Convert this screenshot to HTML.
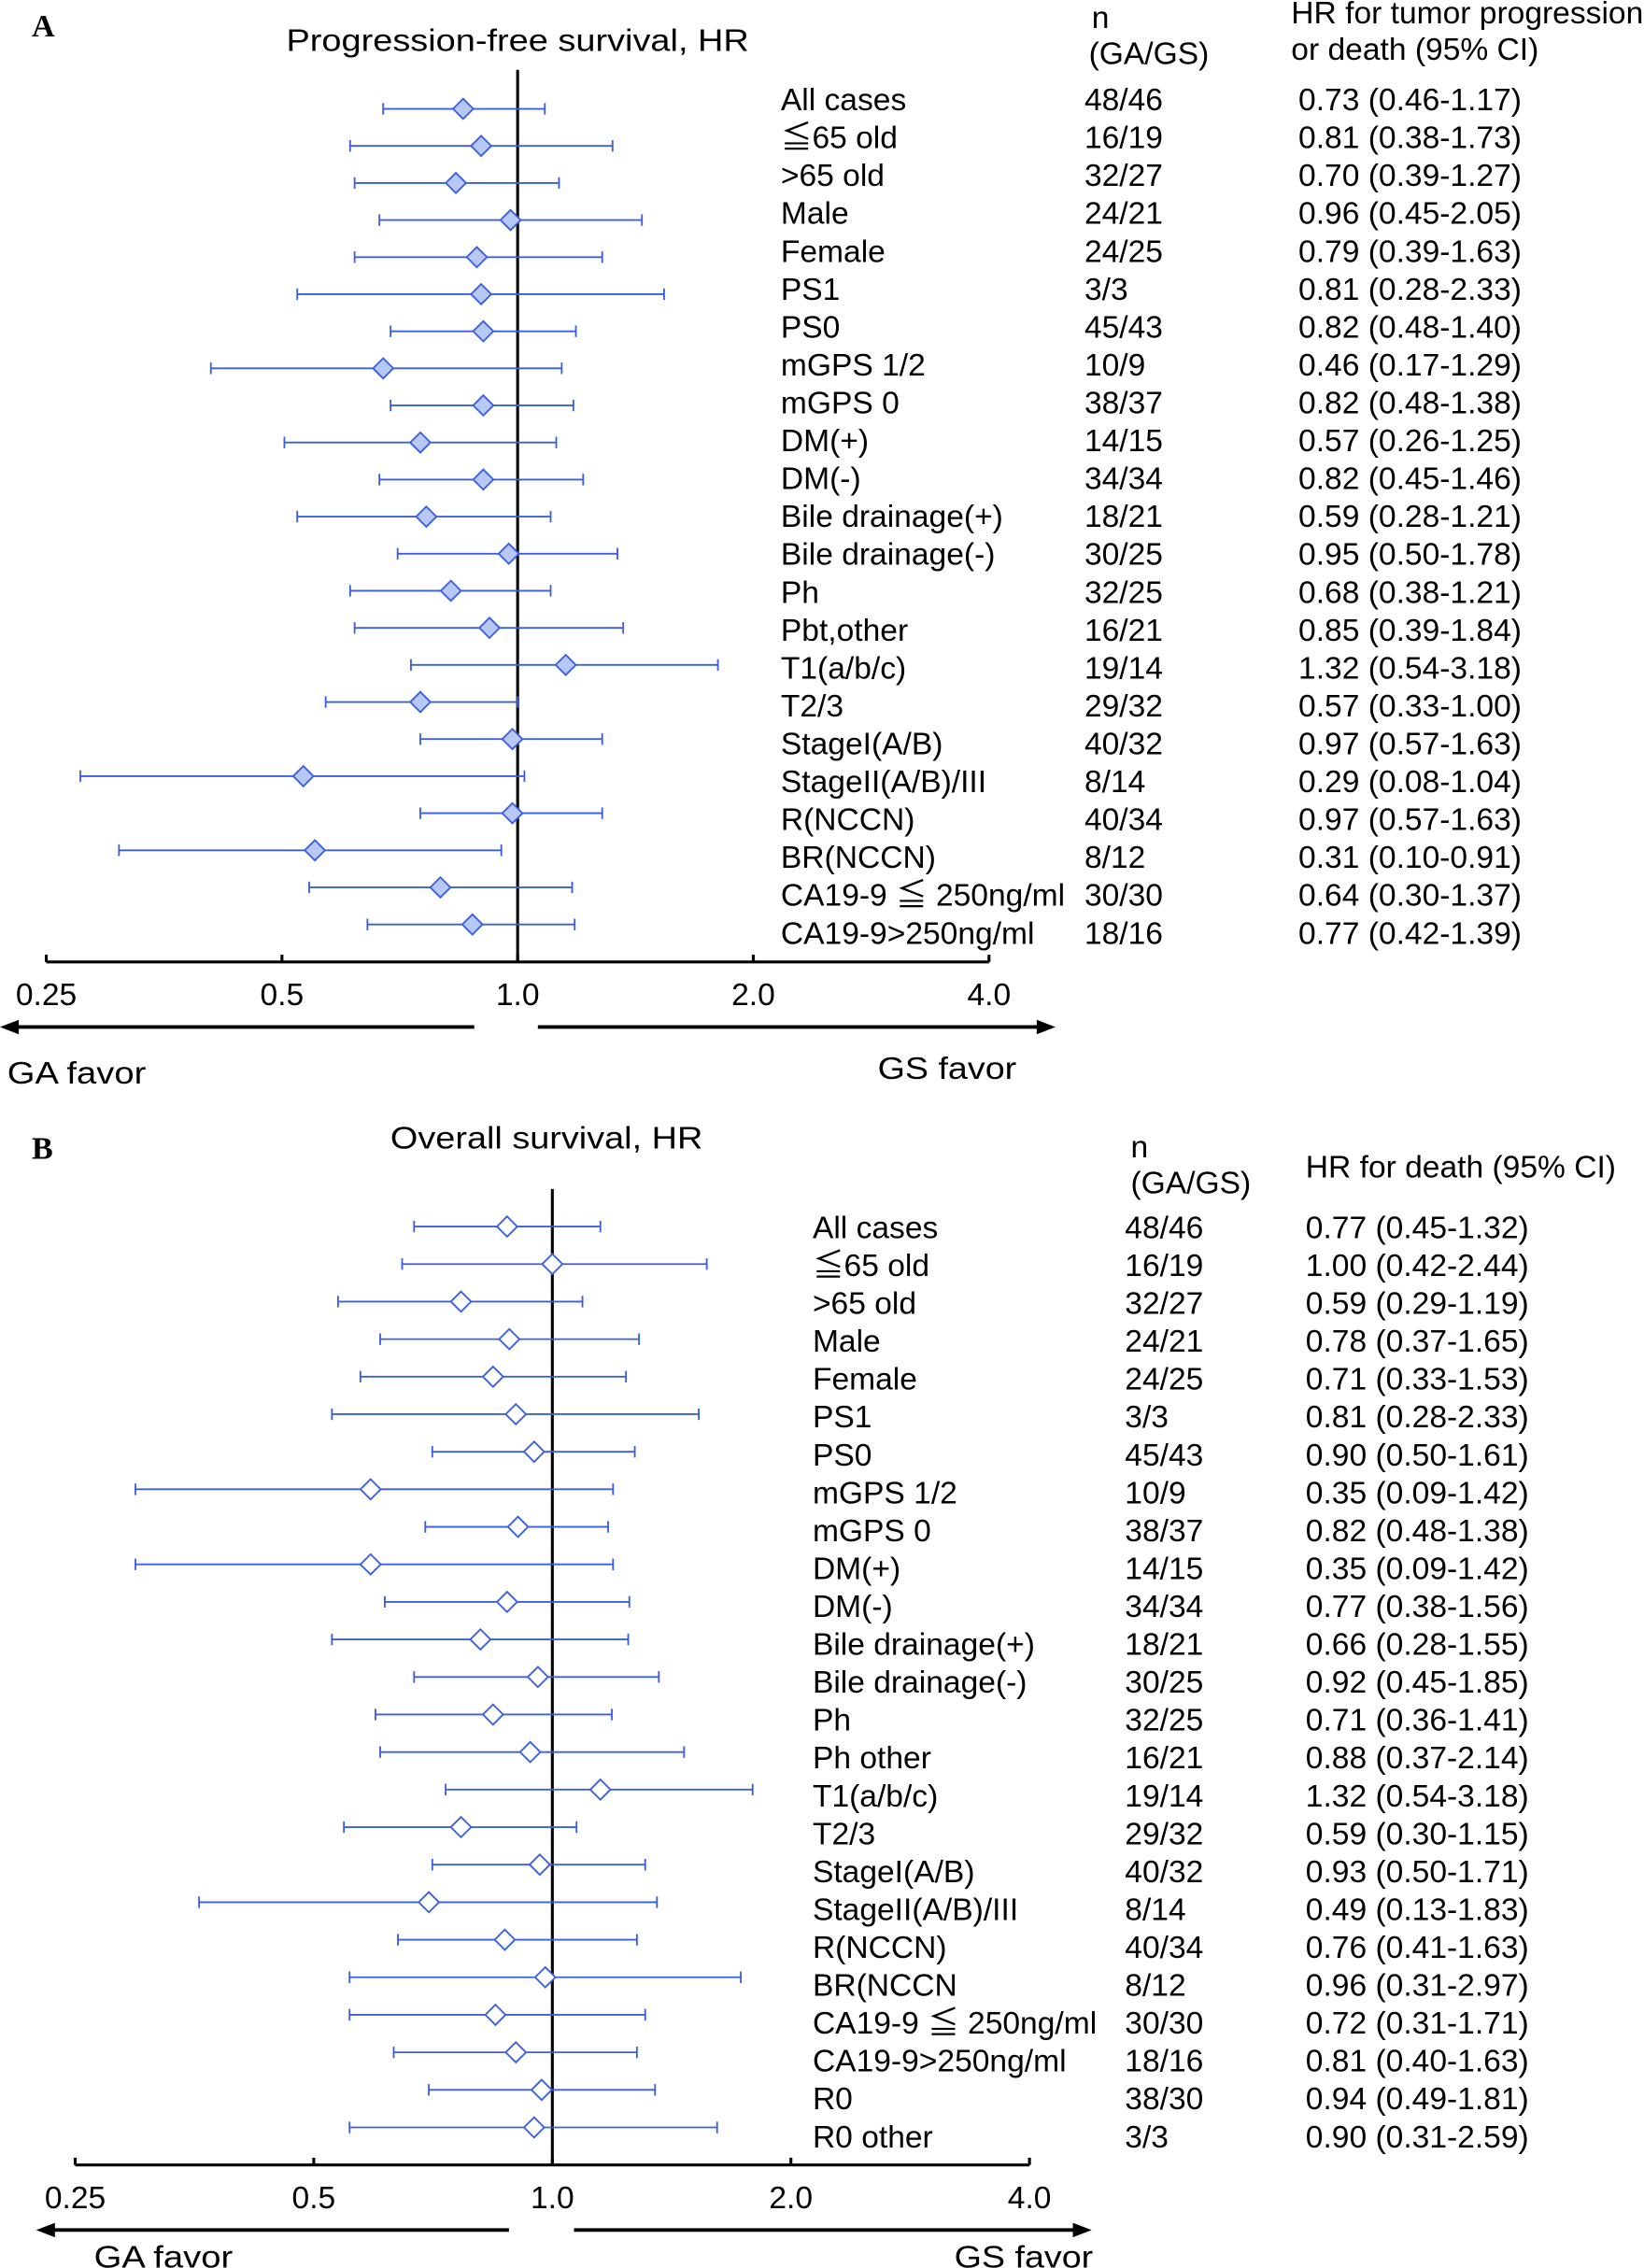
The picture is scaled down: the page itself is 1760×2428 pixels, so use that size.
<!DOCTYPE html>
<html><head><meta charset="utf-8"><style>
html,body{margin:0;padding:0;background:#fff;}
svg{display:block;}
text{font-family:"Liberation Sans","Noto Sans CJK JP",sans-serif;font-size:21.7px;fill:#000;}
.lt{font-family:"Liberation Serif",serif;font-weight:bold;font-size:22px;}
</style></head><body>
<svg id="fig" width="1760" height="2428" viewBox="0 0 1137 1568" xmlns="http://www.w3.org/2000/svg">
<g id="pa"></g>
<g id="pb"></g>
</svg>
<script>
const aLabels=["All cases","≦65 old",">65 old","Male","Female","PS1","PS0","mGPS 1/2","mGPS 0","DM(+)","DM(-)","Bile drainage(+)","Bile drainage(-)","Ph","Pbt,other","T1(a/b/c)","T2/3","StageI(A/B)","StageII(A/B)/III","R(NCCN)","BR(NCCN)","CA19-9 ≦ 250ng/ml","CA19-9>250ng/ml"];
const aN=["48/46","16/19","32/27","24/21","24/25","3/3","45/43","10/9","38/37","14/15","34/34","18/21","30/25","32/25","16/21","19/14","29/32","40/32","8/14","40/34","8/12","30/30","18/16"];
const aHR=[0.73,0.81,0.70,0.96,0.79,0.81,0.82,0.46,0.82,0.57,0.82,0.59,0.95,0.68,0.85,1.32,0.57,0.97,0.29,0.97,0.31,0.64,0.77];
const aLo=[0.46,0.38,0.39,0.45,0.39,0.28,0.48,0.17,0.48,0.26,0.45,0.28,0.50,0.38,0.39,0.54,0.33,0.57,0.08,0.57,0.10,0.30,0.42];
const aHi=[1.17,1.73,1.27,2.05,1.63,2.33,1.40,1.29,1.38,1.25,1.46,1.21,1.78,1.21,1.84,3.18,1.00,1.63,1.04,1.63,0.91,1.37,1.39];
const bLabels=["All cases","≦65 old",">65 old","Male","Female","PS1","PS0","mGPS 1/2","mGPS 0","DM(+)","DM(-)","Bile drainage(+)","Bile drainage(-)","Ph","Ph other","T1(a/b/c)","T2/3","StageI(A/B)","StageII(A/B)/III","R(NCCN)","BR(NCCN","CA19-9 ≦ 250ng/ml","CA19-9>250ng/ml","R0","R0 other"];
const bN=["48/46","16/19","32/27","24/21","24/25","3/3","45/43","10/9","38/37","14/15","34/34","18/21","30/25","32/25","16/21","19/14","29/32","40/32","8/14","40/34","8/12","30/30","18/16","38/30","3/3"];
const bHR=[0.77,1.00,0.59,0.78,0.71,0.81,0.90,0.35,0.82,0.35,0.77,0.66,0.92,0.71,0.88,1.32,0.59,0.93,0.49,0.76,0.96,0.72,0.81,0.94,0.90];
const bLo=[0.45,0.42,0.29,0.37,0.33,0.28,0.50,0.09,0.48,0.09,0.38,0.28,0.45,0.36,0.37,0.54,0.30,0.50,0.13,0.41,0.31,0.31,0.40,0.49,0.31];
const bHi=[1.32,2.44,1.19,1.65,1.53,2.33,1.61,1.42,1.38,1.42,1.56,1.55,1.85,1.41,2.14,3.18,1.15,1.71,1.83,1.63,2.97,1.71,1.63,1.81,2.59];
const tickVals=[0.25,0.5,1,2,4];
const tickLabels=["0.25","0.5","1.0","2.0","4.0"];
const NS="http://www.w3.org/2000/svg";
function mk(parent,tag,attrs,txt){const e=document.createElementNS(NS,tag);for(const k in attrs)e.setAttribute(k,attrs[k]);if(txt!==undefined)e.textContent=txt;parent.appendChild(e);return e;}
function panel(g,cfg,labels,ns,hr,lo,hi){
  const xD=v=>cfg.x0+cfg.k*Math.log2(v);
  const xT=v=>cfg.x0+cfg.tk*Math.log2(v);
  const yM=i=>cfg.my0+cfg.mstep*i;
  const yL=i=>cfg.ly0+cfg.lstep*i;
  let e;
  e=mk(g,"text",{x:cfg.lx,y:cfg.ly,class:"lt"},cfg.letter);
  
  
  e=mk(g,"text",{x:cfg.tx,y:cfg.ty,"font-size":"24",textLength:cfg.tw,lengthAdjust:"spacingAndGlyphs"},cfg.title);
  
  
  cfg.heads.forEach(h=>{e=mk(g,"text",{x:h[0],y:h[1]},h[2]);
    
    });
  e=mk(g,"line",{x1:cfg.x0,x2:cfg.x0,y1:cfg.vy1,y2:cfg.axy,stroke:"#000","stroke-width":2});
  
  
  e=mk(g,"line",{x1:xT(0.25),x2:xT(4),y1:cfg.axy,y2:cfg.axy,stroke:"#000","stroke-width":2});
  
  
  tickVals.forEach((v,i)=>{
    e=mk(g,"line",{x1:xT(v),x2:xT(v),y1:cfg.axy,y2:cfg.axy-5,stroke:"#000","stroke-width":2});
    
    
    e=mk(g,"text",{x:xT(v),y:cfg.axy+30,"text-anchor":"middle"},tickLabels[i]);
    
    
  });
  const ay=cfg.axy+45;
  e=mk(g,"path",{d:`M${cfg.al1} ${ay}H${cfg.al0+12}`,stroke:"#000","stroke-width":2.5,fill:"none"});
  
  
  mk(g,"path",{d:`M${cfg.al0} ${ay}l13 -5v10z`,fill:"#000"});
  e=mk(g,"path",{d:`M${cfg.ar0} ${ay}H${cfg.ar1-12}`,stroke:"#000","stroke-width":2.5,fill:"none"});
  
  
  mk(g,"path",{d:`M${cfg.ar1} ${ay}l-13 -5v10z`,fill:"#000"});
  e=mk(g,"text",{x:cfg.gax,y:cfg.gay,"font-size":"24",textLength:96,lengthAdjust:"spacingAndGlyphs"},"GA favor");
  
  
  e=mk(g,"text",{x:cfg.gsx,y:cfg.gsy,"font-size":"24",textLength:96,lengthAdjust:"spacingAndGlyphs"},"GS favor");
  
  
  labels.forEach((lab,i)=>{
    const y=yM(i);
    e=mk(g,"line",{x1:xD(lo[i]),x2:xD(hi[i]),y1:y,y2:y,stroke:"#3a5fe0","stroke-width":1.2});
    
    
    [lo[i],hi[i]].forEach(v=>{mk(g,"line",{x1:xD(v),x2:xD(v),y1:y-4,y2:y+4,stroke:"#3a5fe0","stroke-width":1.2});});
    const cx=xD(hr[i]);
    e=mk(g,"path",{d:`M${cx} ${y-7}L${cx+7} ${y}L${cx} ${y+7}L${cx-7} ${y}Z`,fill:cfg.fill,stroke:"#3a5fe0","stroke-width":1.2});
    
    
    const ty=yL(i)+7;
    e=mk(g,"text",{x:cfg.cx1,y:ty},lab);
    
    
    e=mk(g,"text",{x:cfg.cx2,y:ty},ns[i]);
    
    
    e=mk(g,"text",{x:cfg.cx3,y:ty},`${hr[i].toFixed(2)} (${lo[i].toFixed(2)}-${hi[i].toFixed(2)})`);
    
    
  });
}
panel(document.getElementById('pa'),{letter:"A",lx:22,ly:25,title:"Progression-free survival, HR",tx:198,ty:35,tw:320,
  heads:[[755,19,"n"],[753,44,"(GA/GS)"],[893,16,"HR for tumor progression"],[893,41,"or death (95% CI)"]],
  x0:358,k:83,tk:163,vy1:48,axy:665,my0:75,mstep:25.64,ly0:69,lstep:26.2,
  al0:0,al1:328,ar0:372,ar1:730,gax:5,gay:749,gsx:607,gsy:746,cx1:540,cx2:750,cx3:898,fill:"#b8c8f4"},
  aLabels,aN,aHR,aLo,aHi);
panel(document.getElementById('pb'),{letter:"B",lx:22,ly:801,title:"Overall survival, HR",tx:270,ty:794,tw:216,
  heads:[[782,800,"n"],[782,825,"(GA/GS)"],[903,814,"HR for death (95% CI)"]],
  x0:382,k:83,tk:165,vy1:822,axy:1497,my0:848,mstep:25.96,ly0:849,lstep:26.2,
  al0:25,al1:352,ar0:397,ar1:755,gax:65,gay:1568,gsx:660,gsy:1568,cx1:562,cx2:778,cx3:903,fill:"#ffffff"},
  bLabels,bN,bHR,bLo,bHi);
</script>
</body></html>
